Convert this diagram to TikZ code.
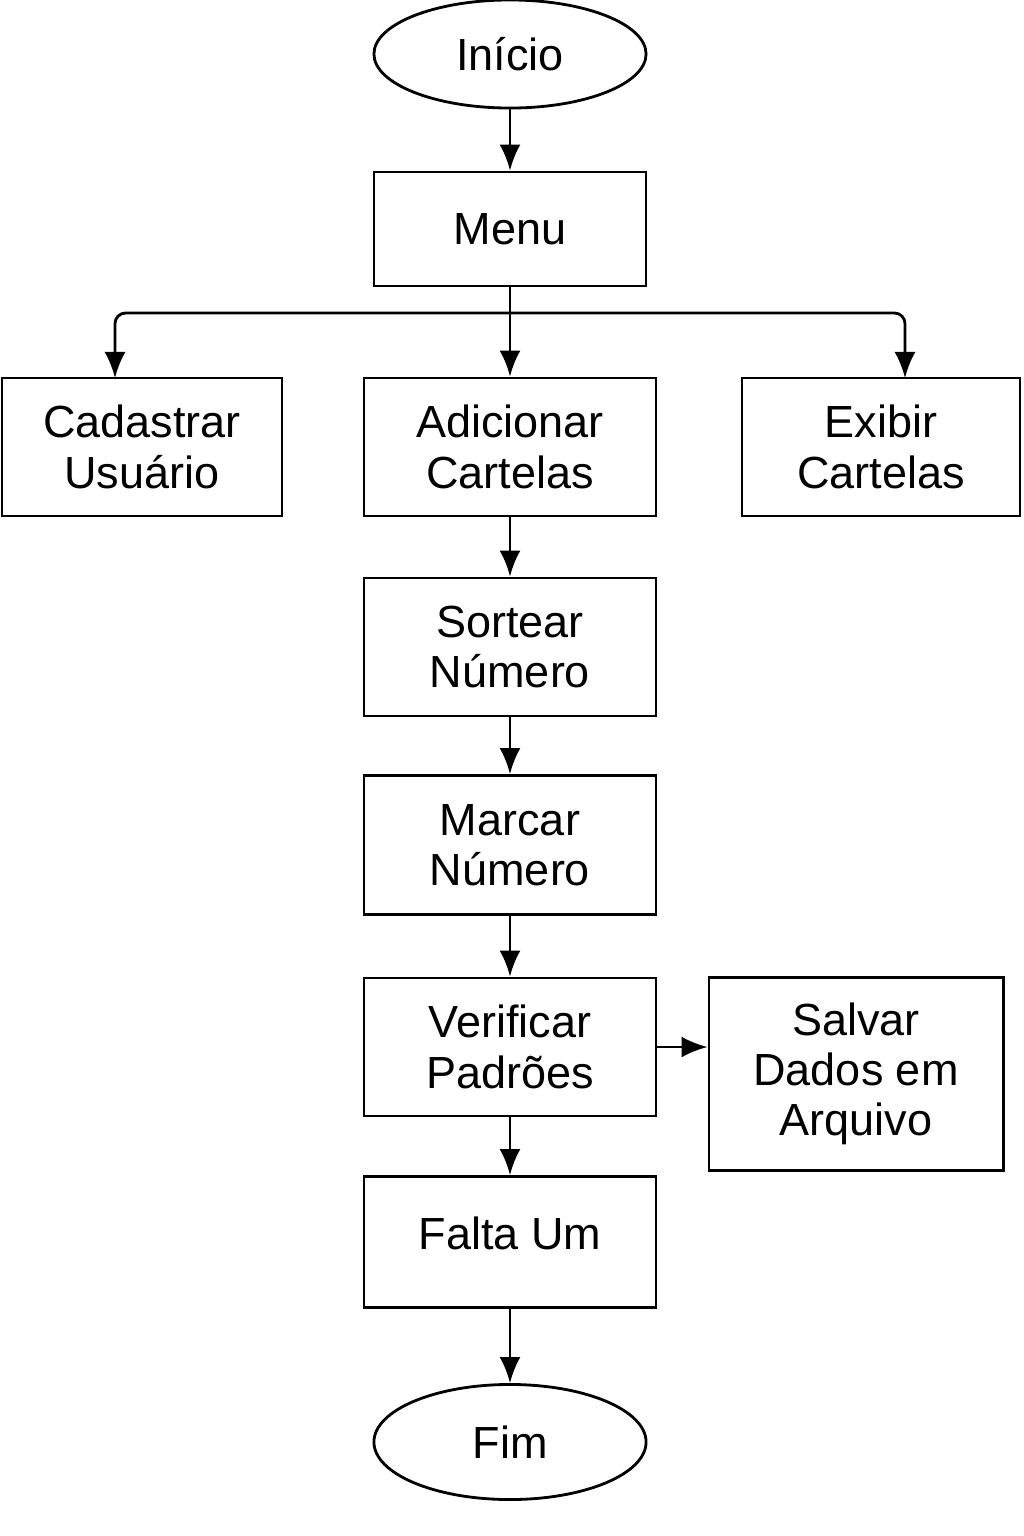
\documentclass[tikz,border=0pt]{standalone}
\usepackage{fontspec}
\setmainfont{Liberation Sans}
\usetikzlibrary{arrows.meta,shapes.geometric}

\tikzset{
	passo/.style = {draw, line width = 0.8pt, rectangle, align = center, minimum width = 2.92cm, minimum height = 1.38cm, inner sep = 0pt, font = \fontsize{12.8}{14.3}\selectfont},
	terminal/.style = {draw, line width = 0.8pt, ellipse, minimum width = 2.72cm, minimum height = 1.1cm, inner sep = 0pt, font = \fontsize{12.8}{14.3}\selectfont},
	seta/.style = {-{Latex[length = 2.6mm, width = 2.1mm]}, line width = 0.8pt}
}

\begin{document}
\begin{tikzpicture}[x = 0.01cm, y = -0.01cm]
	%	canvas
	\useasboundingbox (0, 0) rectangle (1024, 1536);
	
	%	eixo central
	\def\xc{510}
	
	%	nos
	\node[terminal, minimum height = 1.08cm] (inicio) at (\xc, 54) {Início};
	\node[passo, minimum width = 2.72cm, minimum height = 1.14cm] (menu) at (\xc, 229) {Menu};
	
	\node[passo, minimum width = 2.8cm] (cadastrar) at (142, 447) {Cadastrar\\Usuário};
	\node[passo] (adicionar) at (\xc, 447) {Adicionar\\Cartelas};
	\node[passo, minimum width = 2.78cm] (exibir) at (881, 447) {Exibir\\Cartelas};
	
	\node[passo] (sortear) at (\xc, 647) {Sortear\\Número};
	\node[passo, minimum height = 1.39cm] (marcar) at (\xc, 845) {Marcar\\Número};
	\node[passo] (verificar) at (\xc, 1047) {Verificar\\Padrões};
	\node[passo, minimum width = 2.94cm, minimum height = 1.93cm] (salvar) at (856, 1074) {Salvar\\Dados em\\Arquivo};
	\node[passo, minimum height = 1.31cm, text depth = 0.18cm] (falta) at (\xc, 1242) {Falta Um};
	
	\node[terminal, minimum height = 1.15cm] (fim) at (\xc, 1442) {Fim};
	
	%	ramificacao do menu
	\coordinate (ramo) at (\xc, 313);
	\coordinate (esq) at (115, 378);
	\coordinate (dir) at (905, 378);
	
	%	conectores
	\draw[seta] (inicio) -- (menu);
	\draw[line width = 0.8pt] (menu.south) -- (ramo);
	\draw[seta, rounded corners = 3pt] (ramo) -| (esq);
	\draw[seta, rounded corners = 3pt] (ramo) -| (dir);
	\draw[seta] (ramo) -- (adicionar);
	\draw[seta] (adicionar) -- (sortear);
	\draw[seta] (sortear) -- (marcar);
	\draw[seta] (marcar) -- (verificar);
	\draw[seta] (verificar.east) -- (salvar.west |- verificar.east);
	\draw[seta] (verificar) -- (falta);
	\draw[seta] (falta) -- (fim);
\end{tikzpicture}
\end{document}
